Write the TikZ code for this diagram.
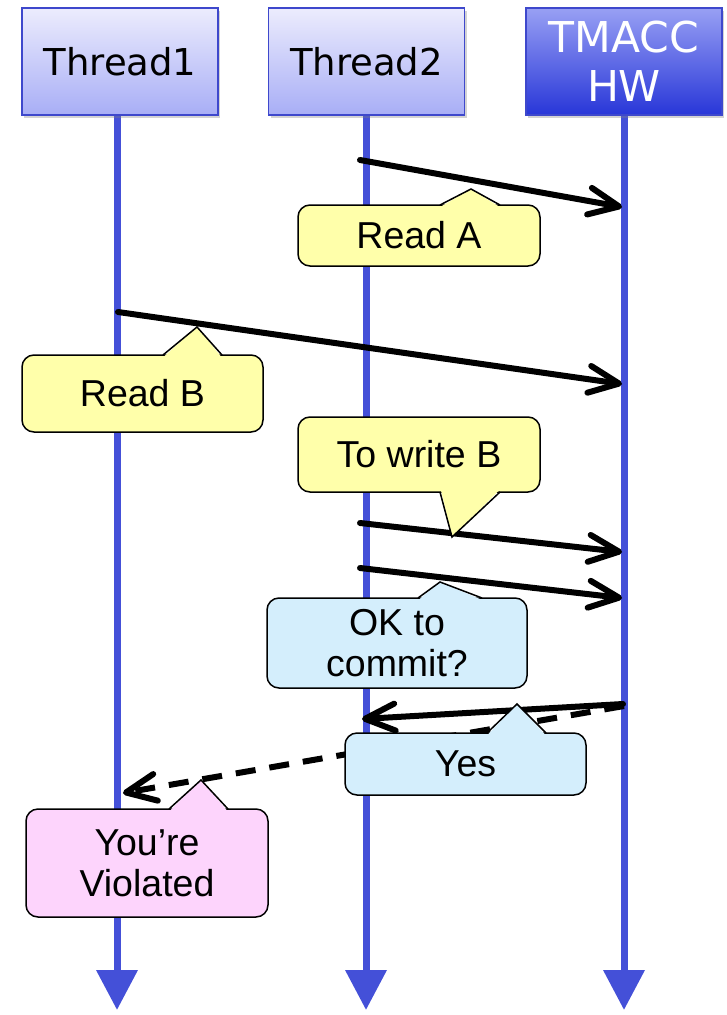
\documentclass[tikz,border=0pt]{standalone}
\usepackage{fontspec}
\setmainfont{Liberation Sans}
\newfontfamily\hdrfont{DejaVu Sans}
\usetikzlibrary{arrows.meta,shadows}
\definecolor{life}{RGB}{68,80,216}
\definecolor{hdrline}{RGB}{62,72,204}
\definecolor{hdrtop}{RGB}{236,236,253}
\definecolor{hdrbot}{RGB}{168,174,246}
\definecolor{hwtop}{RGB}{152,160,244}
\definecolor{hwbot}{RGB}{40,54,216}
\definecolor{cyel}{RGB}{255,255,170}
\definecolor{cblue}{RGB}{212,238,252}
\definecolor{cpink}{RGB}{253,212,252}
\begin{document}
\begin{tikzpicture}[x=1pt,y=-1pt,
  hdrbox/.style={draw=hdrline, line width=1.5pt, minimum width=196pt, minimum height=107pt,
    inner sep=0pt, align=center, top color=hdrtop, bottom color=hdrbot,
    drop shadow={shadow xshift=2pt, shadow yshift=-3pt, opacity=0.35},
    font=\hdrfont\fontsize{37}{44}\selectfont},
  hwbox/.style={hdrbox, top color=hwtop, bottom color=hwbot, text=white,
    font=\hdrfont\fontsize{42.5}{49}\selectfont},
  lifeline/.style={draw=life, fill=life, line width=7pt,
    -{Triangle[length=40pt 0 0, width=40pt 0 0]}},
  msg/.style={draw=black, line width=6pt, line cap=round,
    -{Straight Barb[length=30pt 0 0, width=27pt 0 0, round]}},
  callbox/.style={draw=black, line width=1.5pt, rounded corners=12pt, inner sep=0pt,
    align=center, font=\fontsize{37.5}{41}\selectfont},
  ptr/.style={draw=black, line width=1.5pt, line join=miter},
]
\useasboundingbox (0,0) rectangle (726,1015);

% lifeline ends
\coordinate (l1e) at (117,1010);
\coordinate (l2e) at (366,1010);
\coordinate (l3e) at (624,1010);

% header positions
\path (120,61.5) coordinate (t1c) (366.5,61.5) coordinate (t2c) (624,61.5) coordinate (hwc);

% lifelines
\draw[lifeline] (117,110) -- (l1e);
\draw[lifeline] (366,110) -- (l2e);
\draw[lifeline] (624,110) -- (l3e);

% headers
\node[hdrbox] (t1) at (t1c) {Thread1};
\node[hdrbox] (t2) at (t2c) {Thread2};
\node[hwbox]  (hw) at (hwc) {TMACC\\HW};

% message end points
\coordinate (m1s) at (360,160);  \coordinate (m1e) at (622,207);
\coordinate (m2s) at (118,312);  \coordinate (m2e) at (622,384);
\coordinate (m3s) at (360,523);  \coordinate (m3e) at (622,552);
\coordinate (m4s) at (360,568);  \coordinate (m4e) at (622,598);
\coordinate (m5s) at (623,704);  \coordinate (m5e) at (362,719);
\coordinate (m6s) at (624,706);  \coordinate (m6e) at (123,793);

\draw[msg] (m1s) -- (m1e);
\draw[msg] (m2s) -- (m2e);
\draw[msg] (m3s) -- (m3e);
\draw[msg] (m4s) -- (m4e);
\draw[msg, dash pattern=on 20pt off 14pt, line cap=butt] (m6s) -- (m6e);
\draw[msg] (m5s) -- (m5e);

% callouts
\node[callbox, fill=cyel, minimum width=242pt, minimum height=61pt] (ra) at (419,235.5) {Read A};
\fill[cyel] (441,206.5) -- (471,189) -- (499,206.5) -- cycle;
\draw[ptr] (440,205) -- (471,189) -- (500,205);

\node[callbox, fill=cyel, minimum width=241pt, minimum height=77pt] (rb) at (142.5,393.5) {Read B};
\fill[cyel] (164,356.5) -- (197,327) -- (221,356.5) -- cycle;
\draw[ptr] (163,355) -- (197,327) -- (222,355);

\node[callbox, fill=cyel, minimum width=242pt, minimum height=75pt] (wb) at (419,454.5) {To write B};
\fill[cyel] (441,490.5) -- (452,537) -- (499,490.5) -- cycle;
\draw[ptr] (440,492) -- (452,537) -- (500,492);

\node[callbox, fill=cblue, minimum width=260pt, minimum height=90pt] (ok) at (397,643) {OK to\\commit?};
\fill[cblue] (419,599.5) -- (440,582) -- (481,599.5) -- cycle;
\draw[ptr] (418,598) -- (440,582) -- (482,598);

\node[callbox, fill=cblue, minimum width=241pt, minimum height=62pt] (yes) at (465.5,764) {Yes};
\fill[cblue] (488,734.5) -- (517,704) -- (545,734.5) -- cycle;
\draw[ptr] (487,733) -- (517,704) -- (546,733);

\node[callbox, fill=cpink, minimum width=242pt, minimum height=108pt] (vi) at (147,863) {You’re\\Violated};
\fill[cpink] (170,810.5) -- (201,780) -- (227,810.5) -- cycle;
\draw[ptr] (169,809) -- (201,780) -- (228,809);
\end{tikzpicture}
\end{document}
